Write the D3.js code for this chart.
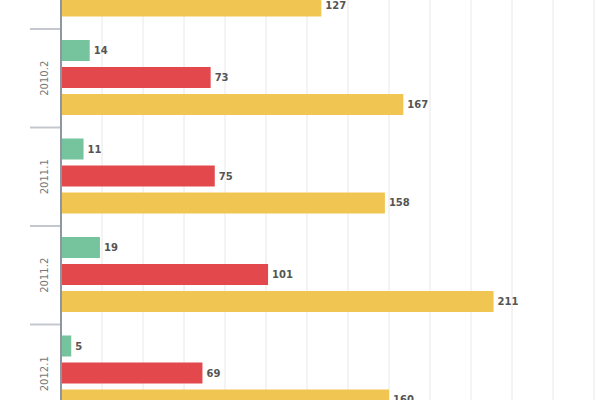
<!DOCTYPE html>
<html>
<head>
<meta charset="utf-8">
<script src="https://cdn.jsdelivr.net/npm/d3@7"></script>
<style>
  body { margin: 0; background: #fff; }
  svg { display: block; }
</style>
</head>
<body>
<svg id="chart" width="600" height="400"></svg>
<script>
// data (top group is cut off, only its yellow bar shows)
const periods = ["2010.1", "2010.2", "2011.1", "2011.2", "2012.1"];
const greenVals = [12, 14, 11, 19, 5];
const redVals = [70, 73, 75, 101, 69];
const yellowVals = [127, 167, 158, 211, 160];
const xTicks = [0, 20, 40, 60, 80, 100, 120, 140, 160, 180, 200, 220, 240, 260];

const width = 600;
const height = 400;

const series = [
    { name: "green", values: greenVals, color: "#76c49d" },
    { name: "red", values: redVals, color: "#e2484c" },
    { name: "yellow", values: yellowVals, color: "#f1c551" }
];

let svg = d3.select("#chart");

let xScale = d3.scaleLinear()
    .domain([0, 260])
    .range([61, 594]);

let yScale = d3.scaleBand()
    .domain(periods)
    .range([-69.5, -69.5 + 98.5 * periods.length]);

let inner = d3.scaleBand()
    .domain(series.map((s) => s.name))
    .range([11, 86])
    .paddingInner(0.222);

// vertical grid lines
svg.append("g")
    .selectAll("line")
    .data(xTicks)
    .join("line")
    .attr("x1", (d) => xScale(d))
    .attr("x2", (d) => xScale(d))
    .attr("y1", 0)
    .attr("y2", height)
    .attr("stroke", "#e8e8e8")
    .attr("stroke-width", 1);

// bars
let groups = svg.append("g")
    .selectAll("g")
    .data(periods)
    .join("g")
    .attr("transform", (d) => `translate(0,${yScale(d)})`);

groups.selectAll("rect")
    .data((d, i) => series.map((s) => ({ name: s.name, value: s.values[i], color: s.color })))
    .join("rect")
    .attr("x", xScale(0))
    .attr("y", (d) => inner(d.name))
    .attr("width", (d) => xScale(d.value) - xScale(0))
    .attr("height", inner.bandwidth())
    .attr("fill", (d) => d.color);

// value labels, skip the ones that sit wholly above the picture
groups.selectAll("text")
    .data((d, i) => series
        .map((s) => ({ name: s.name, value: s.values[i], top: yScale(d) + inner(s.name) }))
        .filter((v) => v.top + inner.bandwidth() > 0))
    .join("text")
    .attr("x", (d) => xScale(d.value) + 4)
    .attr("y", (d) => inner(d.name) + inner.bandwidth() / 2)
    .attr("dy", "0.35em")
    .attr("font-family", "DejaVu Sans, sans-serif")
    .attr("font-size", 10)
    .attr("font-weight", "bold")
    .attr("fill", "#555")
    .text((d) => d.value);

// group separators on the left
svg.append("g")
    .selectAll("line")
    .data(periods)
    .join("line")
    .attr("x1", 30)
    .attr("x2", 61)
    .attr("y1", (d) => yScale(d))
    .attr("y2", (d) => yScale(d))
    .attr("stroke", "#c4c8ce")
    .attr("stroke-width", 2);

// category labels, rotated
svg.append("g")
    .selectAll("text")
    .data(periods)
    .join("text")
    .attr("transform", (d) => `translate(44,${yScale(d) + yScale.bandwidth() / 2}) rotate(-90)`)
    .attr("text-anchor", "middle")
    .attr("dy", "0.35em")
    .attr("font-family", "DejaVu Sans, sans-serif")
    .attr("font-size", 10)
    .attr("fill", "#777")
    .text((d) => d);

// axis line
svg.append("line")
    .attr("x1", xScale(0))
    .attr("x2", xScale(0))
    .attr("y1", 0)
    .attr("y2", height)
    .attr("stroke", "#8e96a2")
    .attr("stroke-width", 2);
</script>
</body>
</html>
